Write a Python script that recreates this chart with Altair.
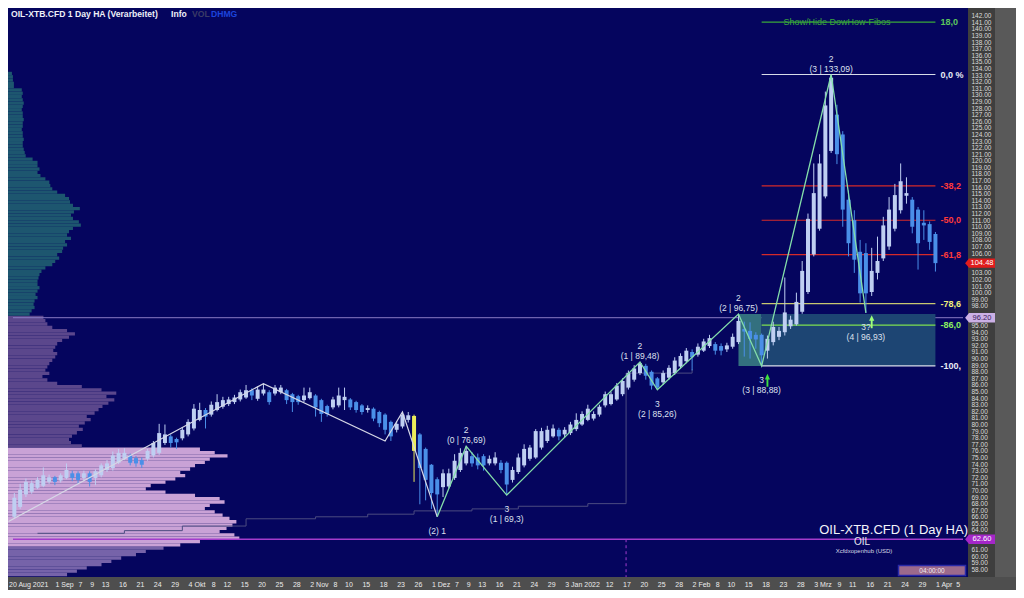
import json
import altair as alt
import pandas as pd

# ---------------- axis ticks ----------------
tick_idx = [0, 8, 12, 14, 16, 19, 22, 25, 28, 31, 35, 37, 40, 43, 46, 49, 52, 56, 58, 61, 64, 67, 70,
            73, 77, 79, 81, 84, 87, 90, 93, 96, 103, 106, 109, 112, 115, 118, 122, 124, 127, 130, 133, 136,
            139, 143, 145, 148, 151, 154, 157, 160, 163.5]
tick_text = ["20 Aug 2021", "1 Sep", "7", "9", "13", "16", "21", "24", "29", "4 Okt", "8", "12", "15", "20",
             "25", "28", "2 Nov", "8", "10", "15", "18", "23", "26", "1 Dez", "7", "9", "13", "16", "21", "24",
             "29", "3 Jan 2022", "12", "17", "20", "25", "28", "2 Feb", "8", "10", "15", "18", "23", "28",
             "3 Mrz", "9", "11", "16", "21", "24", "29", "1 Apr", "5"]
price_ticks = list(range(58, 143))

# ---------------- Heikin-Ashi candles (x = trading day since 20 Aug 2021) ----------------
day_idx = list(range(1, 161))
ha_open = [66.0, 67.5, 69.4, 69.8, 70.4, 70.7, 71.3, 72.0, 71.5, 71.9, 72.6, 72.6, 71.9, 72.6, 71.9, 72.3,
           73.1, 73.4, 74.2, 74.8, 75.3, 74.9, 74.6, 74.8, 75.3, 75.7, 77.2, 78.2, 77.8, 77.9, 78.5, 79.4,
           80.7, 82.2, 81.5, 82.2, 82.7, 83.1, 83.4, 83.8, 84.1, 85.2, 83.9, 84.7, 84.9, 84.7, 84.9, 85.2,
           84.6, 84.3, 83.7, 84.0, 84.4, 83.7, 82.8, 82.6, 82.9, 83.7, 83.8, 83.4, 82.9, 82.2, 82.4, 81.9,
           81.5, 80.4, 79.2, 79.7, 80.7, 81.3, 78.5, 76.3, 73.9, 71.7, 70.5, 70.6, 71.9, 73.1, 74.1, 75.2,
           75.0, 75.2, 74.1, 74.1, 74.2, 74.2, 71.6, 72.8, 73.8, 74.8, 75.0, 76.5, 77.5, 78.2, 79.2, 78.5,
           78.7, 79.3, 80.0, 80.7, 80.9, 81.5, 82.9, 83.1, 83.8, 84.6, 85.6, 86.8, 87.8, 88.9, 88.0, 87.0,
           86.4, 87.1, 87.8, 88.8, 89.6, 91.0, 90.6, 91.2, 91.9, 92.2, 91.9, 91.4, 91.8, 92.5, 94.5, 94.2,
           93.6, 93.6, 91.2, 92.5, 93.3, 94.0, 94.9, 95.2, 97.1, 100.1, 105.8, 109.7, 114.6, 121.5, 127.0,
           124.0, 114.1, 111.0, 106.2, 106.0, 100.1, 103.0, 105.2, 107.0, 109.7, 112.5, 114.7, 114.1, 112.6,
           110.6, 110.4, 108.9]
ha_close = [68.9, 70.1, 71.3, 71.1, 71.6, 72.3, 72.0, 71.3, 72.3, 73.1, 71.9, 71.6, 72.6, 71.3, 72.9, 73.8,
            74.1, 75.3, 75.7, 75.7, 74.2, 74.1, 73.9, 76.0, 77.2, 78.7, 78.5, 77.2, 77.3, 79.2, 80.4, 82.4,
            82.2, 81.2, 83.0, 83.4, 83.7, 83.8, 84.1, 84.9, 85.2, 84.4, 85.3, 85.3, 83.4, 85.6, 85.6, 83.7,
            83.4, 83.4, 84.4, 84.9, 82.6, 81.6, 81.6, 83.8, 84.4, 84.2, 82.6, 82.2, 81.9, 82.5, 80.9, 80.2,
            79.2, 78.2, 80.1, 81.5, 81.4, 76.0, 73.4, 71.6, 69.6, 69.4, 72.6, 72.6, 74.5, 75.7, 76.0, 74.1,
            73.8, 73.8, 74.8, 75.0, 73.1, 70.9, 73.1, 75.0, 76.3, 76.5, 79.0, 79.0, 79.2, 79.4, 78.2, 79.2,
            80.0, 80.7, 81.6, 82.4, 81.6, 82.7, 84.6, 84.6, 85.9, 86.6, 87.8, 88.5, 89.3, 87.4, 85.9, 85.6,
            87.8, 88.6, 89.7, 90.4, 91.2, 90.2, 91.8, 92.6, 93.1, 91.2, 91.2, 92.0, 93.3, 95.7, 94.1, 93.0,
            92.9, 90.5, 93.0, 94.8, 94.2, 97.0, 95.9, 98.6, 103.3, 111.2, 115.1, 119.6, 128.4, 132.6, 121.0,
            112.6, 107.5, 105.0, 99.9, 99.9, 103.3, 104.8, 110.2, 112.6, 114.8, 116.9, 115.1, 110.0, 107.5,
            110.2, 107.7, 104.48]
ha_high = [69.6, 71.0, 71.8, 71.5, 72.0, 73.5, 72.4, 72.2, 72.6, 74.1, 73.0, 72.9, 73.0, 72.9, 73.2, 74.1,
           74.6, 75.9, 76.3, 76.4, 75.6, 75.2, 75.0, 76.3, 77.5, 80.1, 80.0, 78.5, 78.0, 79.6, 80.8, 83.1,
           83.3, 82.5, 83.5, 84.6, 84.2, 84.2, 84.5, 85.3, 86.0, 85.5, 85.8, 86.2, 85.2, 86.0, 86.0, 85.4,
           84.8, 84.5, 85.6, 85.6, 84.6, 83.9, 83.0, 84.2, 85.6, 85.6, 84.0, 83.6, 83.1, 82.9, 82.6, 82.1,
           81.7, 80.6, 80.5, 81.9, 81.9, 81.5, 78.7, 76.5, 74.0, 72.0, 73.2, 73.3, 75.5, 76.4, 76.7, 75.8,
           75.6, 75.5, 75.3, 75.8, 74.6, 74.4, 73.6, 75.6, 77.0, 76.9, 79.3, 79.5, 79.8, 80.0, 79.5, 79.6,
           80.4, 81.7, 82.0, 83.0, 82.0, 83.0, 85.0, 85.0, 86.3, 87.0, 88.2, 89.0, 89.5, 89.2, 88.2, 87.2,
           88.2, 89.0, 90.2, 90.8, 91.6, 91.4, 92.3, 93.0, 93.6, 92.5, 92.3, 92.4, 93.8, 96.75, 95.6, 95.5,
           94.0, 93.8, 93.5, 95.6, 94.8, 102.3, 96.5, 100.0, 104.8, 112.0, 119.6, 121.0, 130.5, 133.09, 128.5,
           124.5, 115.5, 112.5, 108.0, 107.5, 106.8, 108.5, 111.5, 114.5, 116.5, 119.6, 117.5, 114.5, 113.0,
           112.5, 110.8, 109.2]
ha_low = [65.8, 67.2, 69.0, 69.5, 70.2, 70.5, 71.0, 70.8, 71.2, 71.7, 71.4, 71.0, 71.5, 70.6, 70.8, 72.0,
          72.8, 73.0, 74.0, 74.6, 73.8, 73.6, 73.4, 74.5, 75.0, 75.4, 76.9, 76.5, 76.3, 77.6, 78.2, 79.1,
          80.5, 79.4, 81.2, 82.0, 82.4, 82.8, 83.1, 83.5, 83.9, 83.7, 83.6, 84.4, 83.0, 84.4, 84.6, 83.1,
          81.9, 83.0, 83.4, 83.8, 81.2, 80.4, 81.2, 82.3, 82.6, 82.2, 82.2, 81.8, 81.5, 81.8, 80.5, 79.6,
          78.5, 77.5, 78.8, 79.4, 80.3, 71.3, 67.9, 68.5, 67.2, 66.0, 69.0, 70.3, 71.6, 72.8, 73.8, 73.6,
          73.2, 73.0, 73.8, 73.8, 72.6, 69.3, 71.2, 72.5, 73.5, 74.5, 74.8, 76.2, 77.2, 78.0, 77.6, 78.0,
          78.4, 79.0, 79.8, 80.5, 80.6, 81.2, 82.6, 82.9, 83.6, 84.3, 85.3, 86.5, 87.5, 86.8, 85.3, 85.26,
          86.0, 86.8, 87.5, 88.5, 89.3, 88.2, 90.3, 91.0, 91.6, 90.6, 90.5, 91.0, 91.5, 92.2, 90.3, 90.0,
          91.5, 88.88, 90.0, 92.0, 92.8, 93.5, 94.5, 95.0, 96.8, 99.8, 105.5, 109.4, 114.3, 121.2, 119.5,
          110.0, 105.5, 103.0, 98.5, 96.93, 99.5, 102.0, 104.8, 106.5, 109.3, 112.0, 113.5, 109.0, 103.5,
          108.0, 106.5, 103.2]
highlight_days = [70]

# ---------------- zigzag pivots ----------------
zz_white_idx = [0, 44, 65, 68, 74]
zz_white_px = [65.3, 86.2, 77.5, 81.9, 66.0]
zz_green_idx = [74, 79, 86, 109, 112, 126, 130, 142, 148]
zz_green_px = [66.0, 76.69, 69.3, 89.48, 85.26, 96.75, 88.88, 133.09, 96.93]

piv_idx = [79, 109, 126, 142, 86, 112, 130, 148, 74]
piv_px = [76.69, 89.48, 96.75, 133.09, 69.3, 85.26, 88.88, 96.93, 66.0]
piv_text = ["2\n(0 | 76,69)", "2\n(1 | 89,48)", "2\n(2 | 96,75)", "2\n(3 | 133,09)",
            "3\n(1 | 69,3)", "3\n(2 | 85,26)", "3\n(3 | 88,88)", "3?\n(4 | 96,93)", "(2) 1"]
piv_side = ["above", "above", "above", "above", "below", "below", "below", "below", "below"]

signal_idx = [131, 149]
signal_px = [86.7, 95.6]

# ---------------- Fibonacci ----------------
fib_high, fib_low = 133.09, 88.88
fib_start, fib_end = 130, 160
fib_levels = [-18.0, 0.0, 38.2, 50.0, 61.8, 78.6, 86.0, 100.0]
fib_text = ["18,0 %", "0,0 %", "-38,2 %", "-50,0 %", "-61,8 %", "-78,6 %", "-86,0 %", "-100,0 %"]
box_idx = [126, 130, 160]
box_top = 96.75

# ---------------- horizontal levels / markers ----------------
level_px = [96.20, 62.60]
marker_px = [104.48, 96.20, 62.60]
marker_text = ["104.48", "96.20", "62.60"]
session_idx = 106.6

stair_idx = [5, 20, 30, 41, 53, 62, 70, 80, 88, 100, 106.6, 106.6, 118]
stair_px = [63.5, 63.9, 64.6, 65.7, 66.0, 66.4, 66.9, 67.2, 67.6, 68.0, 68.2, 87.8, 88.4]

# ---------------- volume profile (0.5 price bins from 57.0) ----------------
prof_vol = [60, 70, 80, 95, 105, 115, 130, 140, 158, 175, 195, 235, 230, 215, 222, 228, 232, 225, 218, 210,
            200, 205, 220, 215, 190, 160, 140, 145, 160, 170, 180, 175, 185, 190, 200, 205, 223, 210, 195,
            75, 64, 62, 65, 70, 76, 72, 78, 84, 80, 88, 92, 96, 102, 108, 100, 110, 95, 75, 50, 40, 35, 42,
            38, 40, 42, 45, 48, 50, 46, 48, 50, 55, 62, 68, 60, 45, 40, 38, 36, 22, 24, 27, 26, 27, 30, 28,
            30, 32, 30, 30, 31, 32, 34, 38, 45, 48, 52, 50, 55, 56, 60, 58, 64, 60, 62, 66, 74, 72, 66, 64,
            67, 73, 66, 63, 62, 58, 50, 45, 43, 42, 38, 33, 30, 32, 30, 30, 25, 18, 17, 16, 15, 15, 16, 15,
            15, 14, 15, 15, 16, 15, 15, 14, 15, 16, 15, 14, 15, 14, 6, 6, 5, 5, 4]
PROF_START, PROF_STEP = 57.0, 0.5

# ---------------- styles ----------------
BG = "#05055e"
PANEL = "#3e3e3e"
STRIP = "#4e4e4e"
X_MIN, X_MAX = 0.77, 164.76
Y_MIN, Y_MAX = 56.87, 143.18
W, H = 960, 569
PAD = {"left": 0, "top": 0, "right": 48, "bottom": 13}
FONT = "Liberation Sans"
UP, DOWN, HL = "#bfcff2", "#4a8fe8", "#ecec5a"
fib_colors = {"18,0 %": "#3aa83a", "0,0 %": "#d8dce8", "-38,2 %": "#d42a2a", "-50,0 %": "#d42a2a",
              "-61,8 %": "#d42a2a", "-78,6 %": "#c8c870", "-86,0 %": "#7ee050", "-100,0 %": "#d8dce8"}
fib_label_colors = {"18,0 %": "#5cc85c", "0,0 %": "#e8ecf4", "-38,2 %": "#ff3a3a", "-50,0 %": "#ff3a3a",
                    "-61,8 %": "#ff3a3a", "-78,6 %": "#f0f07a", "-86,0 %": "#8cf060", "-100,0 %": "#e8ecf4"}
zone_colors = {"teal": "#1d566f", "purple": "#5b478c", "pink": "#c9a2d6", "purple2": "#7663a9"}

XS = alt.Scale(domain=[X_MIN, X_MAX], nice=False, zero=False)
YS = alt.Scale(domain=[Y_MIN, Y_MAX], nice=False, zero=False)

x_label_expr = f"{json.dumps(tick_text)}[indexof({json.dumps(tick_idx)}, datum.value)]"
# price labels hidden where a price marker box sits on top of them
hidden = " || ".join(f"abs(datum.value - {p}) < 0.85" for p in marker_px)
y_label_expr = f"({hidden}) ? '' : format(datum.value, '.2f')"

X_AXIS = alt.Axis(values=tick_idx, labelExpr=x_label_expr, orient="bottom", domain=False, tickCount=500,
                  ticks=False, grid=False, labelAlign="left", labelBaseline="top", zindex=1,
                  labelPadding=3, labelColor="#ececec", labelFontSize=7, labelFont=FONT,
                  labelOverlap=False, labelFlush=False, labelBound=False, labelSeparation=0,
                  title=None)
Y_AXIS = alt.Axis(values=price_ticks, labelExpr=y_label_expr, orient="right", domain=False, tickCount=500,
                  ticks=False, grid=False, labelAlign="left", labelBaseline="middle",
                  labelPadding=3, labelColor="#dcdcdc", labelFontSize=6.5, labelFont=FONT,
                  labelOverlap=False, labelFlush=False, labelSeparation=0, title=None)


def X(field):
    return alt.X(field, type="quantitative", scale=XS, axis=X_AXIS)


def Y(field):
    return alt.Y(field, type="quantitative", scale=YS, axis=Y_AXIS)


# ---------------- tables ----------------
candles = pd.DataFrame({"idx": day_idx, "o": ha_open, "c": ha_close, "h": ha_high, "l": ha_low})
candles["col"] = [HL if i in highlight_days else (UP if c >= o else DOWN)
                  for i, o, c in zip(candles.idx, candles.o, candles.c)]

prof = pd.DataFrame({"vol": prof_vol})
prof["lo"] = [PROF_START + PROF_STEP * i for i in range(len(prof_vol))]
prof["hi"] = prof["lo"] + PROF_STEP
prof["zero"] = 0


def zone(lo):
    if lo >= 96.2:
        return "teal"
    if 61.5 <= lo < 76.5:
        return "pink"
    if lo < 61.5:
        return "purple2"
    return "purple"


prof["col"] = [zone_colors[zone(v)] for v in prof["lo"]]

fib = pd.DataFrame({"lvl": fib_levels, "txt": fib_text})
fib["px"] = fib_high - fib["lvl"] / 100.0 * (fib_high - fib_low)
fib["x0"] = fib_start
fib["x1"] = fib_end
fib["col"] = [fib_colors[t] for t in fib_text]
fib["lcol"] = [fib_label_colors[t] for t in fib_text]

box = pd.DataFrame({"x0": box_idx[:-1], "x1": box_idx[1:], "top": [box_top] * 2,
                    "bot": [fib_low] * 2, "col": ["#33707f", "#1d4573"]})

zz_white = pd.DataFrame({"idx": zz_white_idx, "px": zz_white_px})
zz_green = pd.DataFrame({"idx": zz_green_idx, "px": zz_green_px})
piv = pd.DataFrame({"idx": piv_idx, "px": piv_px, "txt": piv_text, "side": piv_side})
sig = pd.DataFrame({"idx": signal_idx, "px": signal_px, "col": ["#3ee03e", "#9cff7a"]})
stair = pd.DataFrame({"idx": stair_idx, "px": stair_px, "ord": list(range(len(stair_idx)))})
levels = pd.DataFrame({"px": level_px, "col": ["#8a7cc4", "#a43ccc"], "w": [1.0, 1.5]})
markers = pd.DataFrame({"px": marker_px, "txt": marker_text,
                        "fill": ["#e01c1c", "#cbb0e6", "#a426c8"], "tcol": ["#ffffff", "#3a2060", "#ffffff"]})

# ---------------- layers ----------------
profile = alt.Chart(prof).mark_rect().encode(
    x=alt.X("zero:Q", scale=alt.Scale(domain=[0, 975.2], nice=False, zero=False), axis=None),
    x2="vol:Q", y=Y("lo"), y2="hi:Q", color=alt.Color("col:N", scale=None))

one = pd.DataFrame({"k": [0]})
button_col = alt.Chart(one).mark_rect(color="#595959").encode(
    x=alt.value(987), x2=alt.value(1008), y=alt.value(0), y2=alt.value(H))
date_strip = alt.Chart(one).mark_rect(color=STRIP).encode(
    x=alt.value(0), x2=alt.value(1008), y=alt.value(H), y2=alt.value(H + 13))

level_lines = alt.Chart(levels).mark_rule().encode(
    x=alt.datum(X_MIN), x2=alt.datum(X_MAX), y=Y("px"), color=alt.Color("col:N", scale=None),
    strokeWidth=alt.StrokeWidth("w:Q", scale=None))

session_line = alt.Chart(one).mark_rule(color="#a43ccc", strokeDash=[3, 3], strokeWidth=1).encode(
    x=alt.datum(session_idx), y=alt.datum(62.6), y2=alt.datum(Y_MIN))

box_rect = alt.Chart(box).mark_rect().encode(
    x=X("x0"), x2="x1:Q", y=Y("top"), y2="bot:Q", color=alt.Color("col:N", scale=None))

fib_lines = alt.Chart(fib).mark_rule(strokeWidth=1.2).encode(
    x=X("x0"), x2="x1:Q", y=Y("px"), color=alt.Color("col:N", scale=None))
fib_labels = alt.Chart(fib).mark_text(align="left", baseline="middle", dx=5, font=FONT, fontSize=9,
                                      fontWeight="bold", clip=True, limit=24, ellipsis=" ").encode(
    x=X("x1"), y=Y("px"), text="txt:N", color=alt.Color("lcol:N", scale=None))
fib_title = alt.Chart(fib).transform_filter("datum.lvl < 0").mark_text(
    align="center", baseline="middle", font=FONT, fontSize=9, color="#3aa83a").encode(
    x=alt.datum(143), y=Y("px"), text=alt.value("Show/Hide DowHow-Fibos"))

stair_line = alt.Chart(stair).mark_line(color="#4c4c80", strokeWidth=1, interpolate="step-after").encode(
    x=X("idx"), y=Y("px"), order="ord:Q")

wicks = alt.Chart(candles).mark_rule(strokeWidth=1).encode(
    x=X("idx"), y=Y("l"), y2="h:Q", color=alt.Color("col:N", scale=None))
bodies = alt.Chart(candles).mark_bar(size=4).encode(
    x=X("idx"), y=Y("o"), y2="c:Q", color=alt.Color("col:N", scale=None))

white_line = alt.Chart(zz_white).mark_line(color="#d6d8e6", strokeWidth=1.2).encode(x=X("idx"), y=Y("px"))
green_line = alt.Chart(zz_green).mark_line(color="#84deaa", strokeWidth=1.3).encode(x=X("idx"), y=Y("px"))

piv_above = alt.Chart(piv).transform_filter("datum.side == 'above'").mark_text(
    lineBreak="\n", align="center", baseline="bottom", dy=-11, font=FONT, fontSize=8.5,
    color="#dde0ee", lineHeight=10).encode(x=X("idx"), y=Y("px"), text="txt:N")
piv_below = alt.Chart(piv).transform_filter("datum.side == 'below'").mark_text(
    lineBreak="\n", align="center", baseline="top", dy=10, font=FONT, fontSize=8.5,
    color="#dde0ee", lineHeight=10).encode(x=X("idx"), y=Y("px"), text="txt:N")

signals = alt.Chart(sig).mark_point(shape="arrow", filled=True, size=170, opacity=1).encode(
    x=X("idx"), y=Y("px"), color=alt.Color("col:N", scale=None))

marker_box = alt.Chart(markers).mark_point(
    shape="M-1.3,0L-1,-0.36L1,-0.36L1,0.36L-1,0.36Z", filled=True, size=676, opacity=1).encode(
    x=alt.value(974), y=Y("px"), color=alt.Color("fill:N", scale=None))
marker_txt = alt.Chart(markers).mark_text(align="center", baseline="middle", font=FONT, fontSize=7.5).encode(
    x=alt.value(974), y=Y("px"), text="txt:N", color=alt.Color("tcol:N", scale=None))

# header / footer texts
hdr = pd.DataFrame({"t": ["OIL-XTB.CFD 1 Day HA (Verarbeitet)", "Info", "VOL", "DHMG"],
                    "x": [3, 163, 184, 203], "c": ["#eef0f8", "#eef0f8", "#3c3c66", "#1c44dc"]})
header = alt.Chart(hdr).mark_text(align="left", baseline="middle", font=FONT, fontSize=8.6,
                                  fontWeight="bold").encode(
    x=alt.X("x:Q", scale=None), y=alt.value(6), text="t:N", color=alt.Color("c:N", scale=None))

big_name = alt.Chart(one).mark_text(
    align="right", baseline="middle", font=FONT, fontSize=13, color="#f4f4fa").encode(
    x=alt.value(960), y=alt.value(522), text=alt.value("OIL-XTB.CFD (1 Day HA)"))
sym_name = alt.Chart(one).mark_text(
    align="center", baseline="middle", font=FONT, fontSize=10, color="#e8e8f0").encode(
    x=alt.value(854), y=alt.value(534), text=alt.value("OIL"))
src_name = alt.Chart(one).mark_text(
    align="center", baseline="middle", font=FONT, fontSize=6, color="#d8d8e4").encode(
    x=alt.value(856), y=alt.value(543), text=alt.value("Xcfdxopenhub   (USD)"))
clock_box = alt.Chart(one).mark_point(
    shape="M-1,-0.15L1,-0.15L1,0.15L-1,0.15Z", filled=False, size=4489, stroke="#2a2aa8",
    strokeWidth=1.5, fill="#9c6a8c", fillOpacity=1, opacity=1).encode(
    x=alt.value(924), y=alt.value(562.5))
clock_txt = alt.Chart(one).mark_text(
    align="center", baseline="middle", font=FONT, fontSize=6.5, color="#f0e8f0").encode(
    x=alt.value(924), y=alt.value(562.5), text=alt.value("04:00:00"))

main = alt.layer(button_col, date_strip, level_lines, session_line, box_rect, fib_lines, fib_title,
                 stair_line, wicks, bodies, white_line, green_line, fib_labels, piv_above, piv_below,
                 signals, marker_box, marker_txt, header, big_name, sym_name, src_name, clock_box, clock_txt)

chart = alt.layer(profile, main).resolve_scale(x="independent").properties(
    width=W, height=H, padding=PAD, background=PANEL,
    autosize=alt.AutoSizeParams(type="none"),
).configure_view(stroke=None, fill=BG).configure_axis(
    labelOverlap=False, labelSeparation=0, labelFlush=False)

chart.save("out.html", embed_options={"renderer": "svg", "actions": False})
